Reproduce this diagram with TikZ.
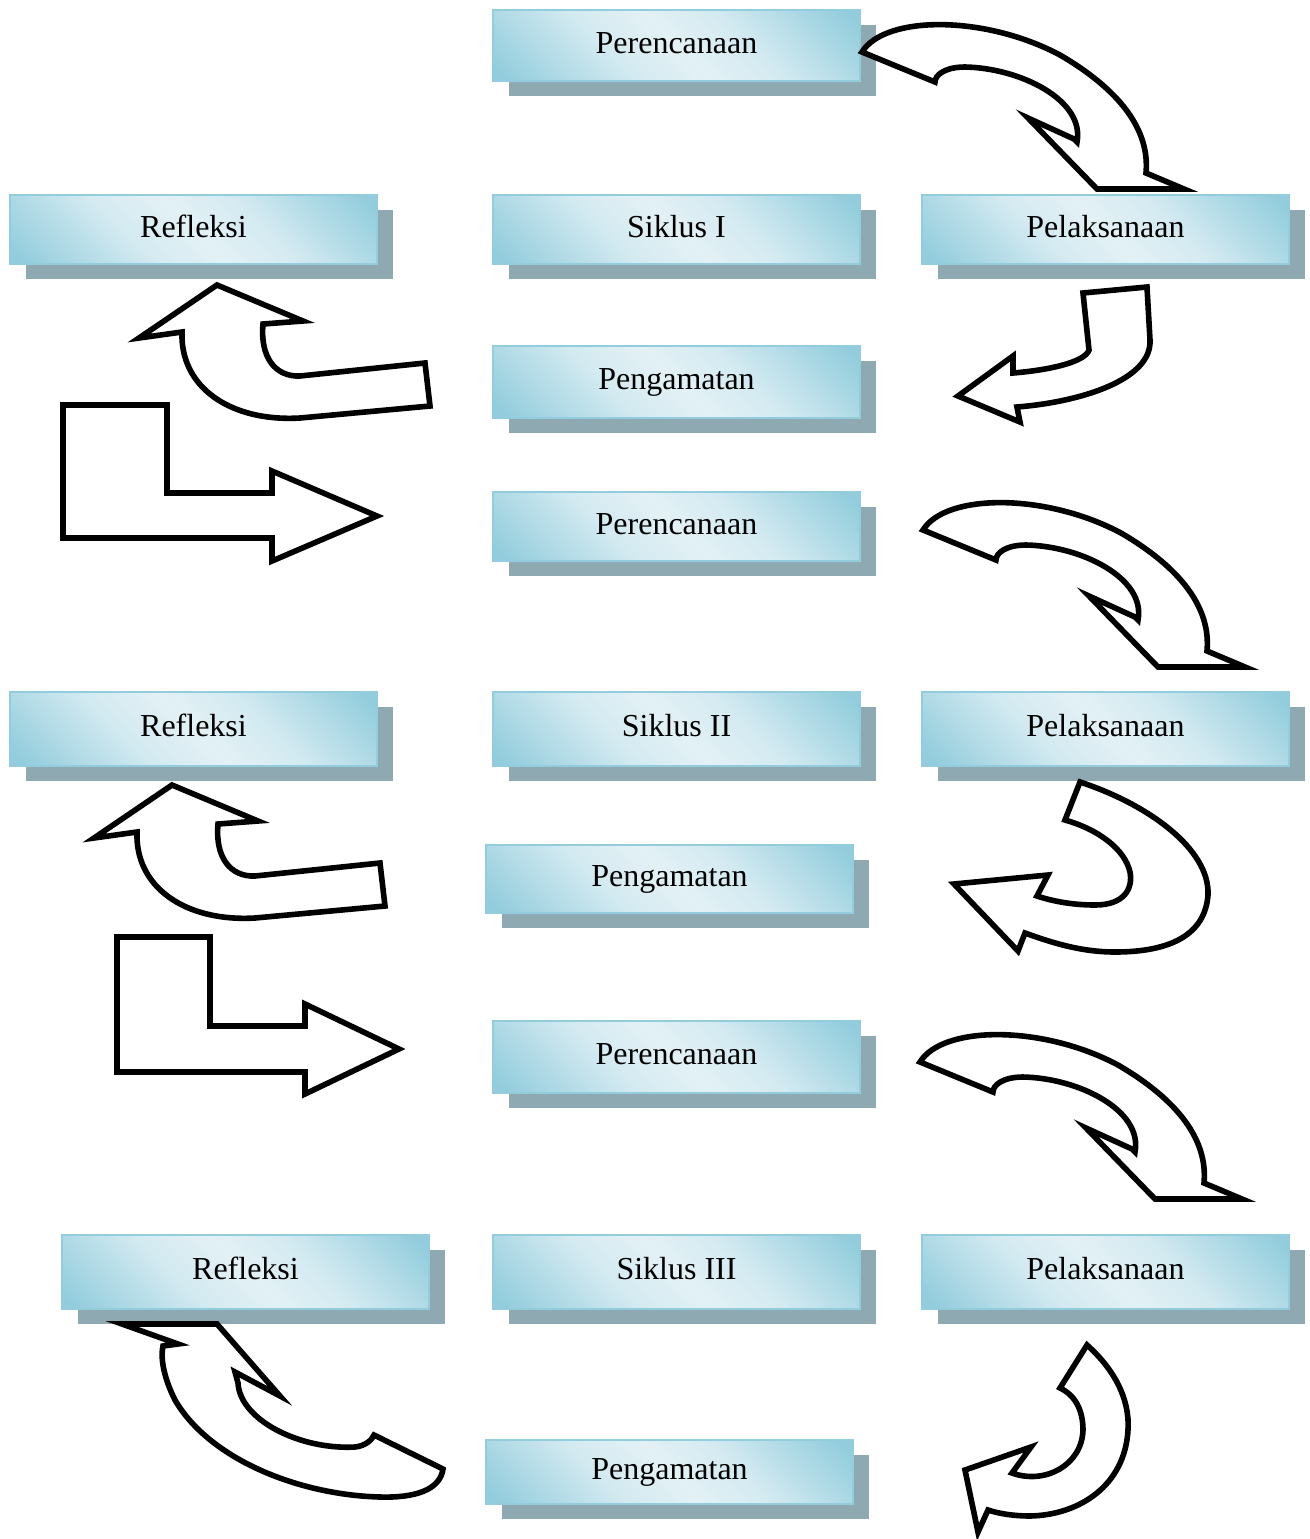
\documentclass[tikz,border=0pt]{standalone}
\usepackage{fontspec}
\setmainfont{Liberation Serif}
\usetikzlibrary{shadows}

\definecolor{glowcyan}{HTML}{93CDDD}
\definecolor{glowpale}{HTML}{D3EAF1}
\definecolor{glowwhite}{HTML}{E3F1F5}
\definecolor{boxedge}{HTML}{93CDDD}
\definecolor{shadowgray}{HTML}{8EA9B1}

% diagonal glow: cyan corners, pale band along the main diagonal
\pgfdeclareverticalshading{boxglow}{100bp}{color(0bp)=(glowcyan); color(17bp)=(glowcyan); color(38bp)=(glowpale); color(50bp)=(glowwhite); color(62bp)=(glowpale); color(83bp)=(glowcyan); color(100bp)=(glowcyan)}

\tikzset{
  stage/.style={draw=boxedge, line width=1pt, shading=boxglow, shading angle=-45,
    minimum width=183.5pt, minimum height=35.5pt, inner sep=0pt,
    font=\fontsize{16}{19}\selectfont, text height=11pt, text depth=3.5pt,
    drop shadow={shadow xshift=8pt, shadow yshift=-7.5pt, fill=shadowgray, opacity=1}},
  blockarrow/.style={draw=black, line width=2.8pt, fill=white, line join=miter},
  % curved arrow sweeping from a plan box down to the next action box
  swoop/.pic={\path[blockarrow] (0,0) .. controls (23,-37) and (123,-37) .. (198,3)
      .. controls (258,38) and (288,78) .. (284,121) -- (322,137) -- (235,137)
      -- (166,66) -- (212,87) -- (215,90) .. controls (223,48) and (158,16) .. (103,15)
      .. controls (83,15) and (73,23) .. (73,30) -- cycle;},
  % curved arrow turning up from an observation box to a reflection box
  upturn/.pic={\path[blockarrow] (0,0) -- (86,36) -- (46,39)
      .. controls (43,72) and (58,92) .. (83,91) -- (208,78) -- (213,121) -- (83,133)
      .. controls (13,137) and (-37,102) .. (-35,47) -- (-78,53) -- cycle;}
}

\begin{document}
\begin{tikzpicture}[x=0.5pt, y=-0.5pt]
  \useasboundingbox[fill=white] (0,0) rectangle (1310,1539);

  % cycle I
  \node[stage] (plan1) at (676.5,45.5) {Perencanaan};
  \node[stage, minimum height=34.5pt] (refl1) at (193.5,229.5) {Refleksi};
  \node[stage, minimum height=34.5pt] (cyc1) at (676.5,229.5) {Siklus I};
  \node[stage, minimum height=34.5pt] (act1) at (1105.5,229.5) {Pelaksanaan};
  \node[stage, minimum height=36pt] (obs1) at (676.5,382) {Pengamatan};

  % cycle II
  \node[stage, minimum height=34.5pt] (plan2) at (676.5,526.5) {Perencanaan};
  \node[stage, minimum height=37pt] (refl2) at (193.5,729) {Refleksi};
  \node[stage, minimum height=37pt] (cyc2) at (676.5,729) {Siklus II};
  \node[stage, minimum height=37pt] (act2) at (1105.5,729) {Pelaksanaan};
  \node[stage, minimum height=34pt] (obs2) at (669.5,879) {Pengamatan};

  % cycle III
  \node[stage, minimum height=36pt] (plan3) at (676.5,1057) {Perencanaan};
  \node[stage, minimum height=37pt] (refl3) at (245.5,1272) {Refleksi};
  \node[stage, minimum height=37pt] (cyc3) at (676.5,1272) {Siklus III};
  \node[stage, minimum height=37pt] (act3) at (1105.5,1272) {Pelaksanaan};
  \node[stage, minimum height=32pt] (obs3) at (669.5,1472) {Pengamatan};

  % plan -> action
  \pic at (862,52) {swoop};
  \pic at (923,530) {swoop};
  \pic at (920,1062) {swoop};

  % action -> observation, cycle I
  \path[blockarrow] (1083,293) -- (1147,287) -- (1150,340)
    .. controls (1152,380) and (1080,402) .. (1017,407) -- (1020,422) -- (958,396)
    -- (1013,356) -- (1013,373) .. controls (1050,370) and (1085,362) .. (1089,350) -- cycle;

  % observation -> reflection, cycles I and II
  \pic at (217,285) {upturn};
  \pic at (172,785) {upturn};

  % reflection -> next plan
  \path[blockarrow] (63,405) -- (167,405) -- (167,493) -- (272,493) -- (272,471)
    -- (377,516) -- (272,561) -- (272,538) -- (63,538) -- cycle;
  \path[blockarrow] (117,937) -- (210,937) -- (210,1026) -- (305,1026) -- (305,1004)
    -- (399,1049) -- (305,1094) -- (305,1072) -- (117,1072) -- cycle;

  % action -> observation, cycle II
  \path[blockarrow] (1080,782) .. controls (1150,805) and (1210,850) .. (1208,895)
    .. controls (1205,935) and (1170,952) .. (1115,952)
    .. controls (1080,952) and (1050,942) .. (1025,933) -- (1018,951) -- (954,884)
    -- (1048,875) -- (1037,896) .. controls (1055,902) and (1075,905) .. (1095,905)
    .. controls (1125,905) and (1133,888) .. (1130,872)
    .. controls (1125,850) and (1100,830) .. (1065,820) -- cycle;

  % observation -> reflection, cycle III
  \path[blockarrow] (122,1324) -- (217,1324) -- (280,1396) -- (235,1372) -- (238,1383)
    .. controls (240,1420) and (300,1450) .. (355,1447)
    .. controls (365,1446) and (372,1440) .. (374,1435) -- (443,1469)
    .. controls (440,1490) and (415,1498) .. (380,1497)
    .. controls (300,1495) and (210,1460) .. (175,1400)
    .. controls (165,1380) and (160,1360) .. (163,1346) -- (178,1344) -- cycle;

  % action -> observation, cycle III
  \path[blockarrow] (1087,1345) .. controls (1115,1370) and (1130,1400) .. (1128,1430)
    .. controls (1125,1485) and (1080,1515) .. (1030,1516)
    .. controls (1015,1516) and (1000,1514) .. (988,1510) -- (978,1532) -- (965,1470)
    -- (1031,1447) -- (1012,1473) .. controls (1045,1485) and (1082,1465) .. (1083,1430)
    .. controls (1083,1410) and (1075,1395) .. (1060,1388) -- cycle;
\end{tikzpicture}
\end{document}
